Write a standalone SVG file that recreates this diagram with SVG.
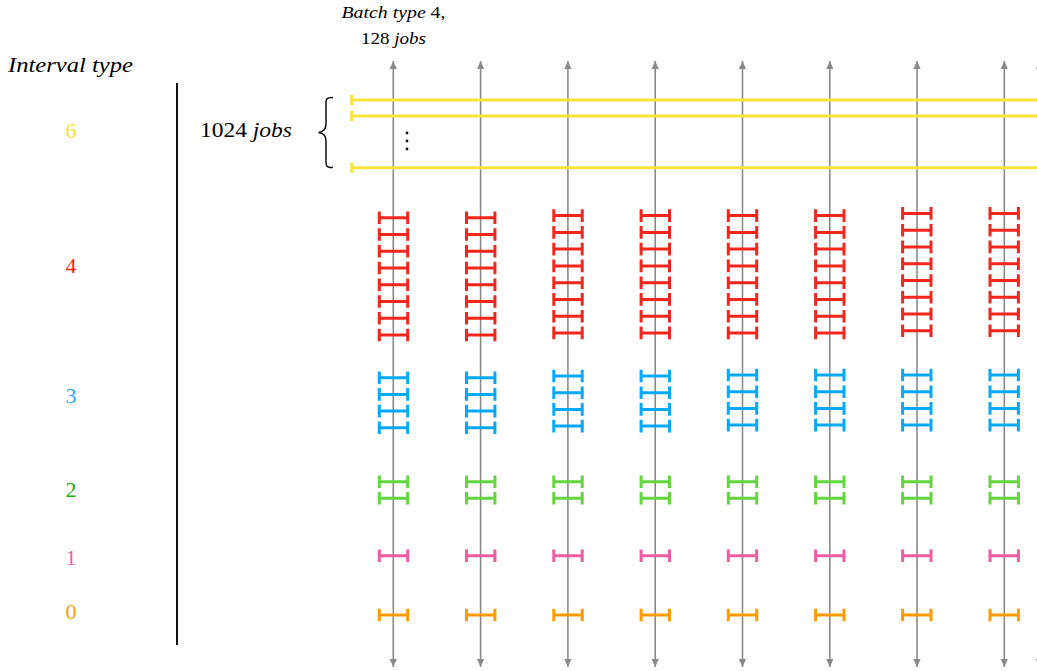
<svg xmlns="http://www.w3.org/2000/svg" xmlns:xlink="http://www.w3.org/1999/xlink" width="1037" height="671" viewBox="0 0 1037 671">
<style>
  text{font-family:"Liberation Serif","Times New Roman",serif;}
  .it{font-style:italic;}
  .ax{stroke:#8a8a8a;stroke-width:1.6;fill:none;}
  .iv{fill:none;stroke-width:3;}
  .y{stroke:#fbe23c;}
  .r{stroke:#f2261b;}
  .b{stroke:#06a8fa;}
  .g{stroke:#62d63e;}
  .p{stroke:#f05ca2;}
  .o{stroke:#ff9a00;}
</style>
<defs>
  <path id="iv" d="M-14.2,0H14.2M-14.2,-6.3V6.3M14.2,-6.3V6.3"/>
  <marker id="arr" viewBox="0 0 10 10" refX="10" refY="5" markerWidth="8" markerHeight="8" orient="auto-start-reverse" markerUnits="userSpaceOnUse">
    <path d="M0,0.5L10,5L0,9.5z" fill="#8a8a8a"/>
  </marker>
</defs>
<rect width="1037" height="671" fill="#fff"/>

<g id="labels">
  <text class="it" x="8" y="72" font-size="21" textLength="125" lengthAdjust="spacingAndGlyphs">Interval type</text>
  <text x="71" y="137.5" font-size="22" text-anchor="middle" fill="#f7e13c">6</text>
  <text x="71" y="273.3" font-size="22" text-anchor="middle" fill="#f2261b">4</text>
  <text x="71" y="402.5" font-size="22" text-anchor="middle" fill="#1faaff">3</text>
  <text x="71" y="497.3" font-size="22" text-anchor="middle" fill="#22aa11">2</text>
  <text x="71" y="565" font-size="22" text-anchor="middle" fill="#f05ca2">1</text>
  <text x="71" y="619.3" font-size="22" text-anchor="middle" fill="#ff9a00">0</text>
  <line x1="177" y1="83" x2="177" y2="645" stroke="#111" stroke-width="2"/>
  <text x="200" y="137" font-size="21" textLength="92" lengthAdjust="spacingAndGlyphs">1024 <tspan class="it">jobs</tspan></text>
  <path d="M333,97.5C325,97.5 326,100 326,106V124C326,130 323,132 318.5,132.5C323,133 326,135 326,141V159C326,165 325,167.5 333,167.5" fill="none" stroke="#111" stroke-width="1.5"/>
  <text x="393.5" y="18.3" font-size="17.5" text-anchor="middle" textLength="104" lengthAdjust="spacingAndGlyphs"><tspan class="it">Batch type</tspan> 4,</text>
  <text x="393.5" y="44.3" font-size="17.5" text-anchor="middle" textLength="65" lengthAdjust="spacingAndGlyphs">128 <tspan class="it">jobs</tspan></text>
</g>

<g id="connectors">
  <line class="ax" x1="393.3" y1="667" x2="393.3" y2="61" marker-start="url(#arr)" marker-end="url(#arr)"/>
  <line class="ax" x1="480.6" y1="667" x2="480.6" y2="61" marker-start="url(#arr)" marker-end="url(#arr)"/>
  <line class="ax" x1="567.9" y1="667" x2="567.9" y2="61" marker-start="url(#arr)" marker-end="url(#arr)"/>
  <line class="ax" x1="655.2" y1="667" x2="655.2" y2="61" marker-start="url(#arr)" marker-end="url(#arr)"/>
  <line class="ax" x1="742.5" y1="667" x2="742.5" y2="61" marker-start="url(#arr)" marker-end="url(#arr)"/>
  <line class="ax" x1="829.8" y1="667" x2="829.8" y2="61" marker-start="url(#arr)" marker-end="url(#arr)"/>
  <line class="ax" x1="917" y1="667" x2="917" y2="61" marker-start="url(#arr)" marker-end="url(#arr)"/>
  <line class="ax" x1="1004.3" y1="667" x2="1004.3" y2="61" marker-start="url(#arr)" marker-end="url(#arr)"/>
  <line class="ax" x1="1039.5" y1="667" x2="1039.5" y2="61" marker-start="url(#arr)" marker-end="url(#arr)"/>
</g>

<g id="type6">
  <path class="iv y" d="M351.7,100H1040M351.7,95V105"/>
  <path class="iv y" d="M351.7,116H1040M351.7,111V121"/>
  <path class="iv y" d="M351.7,167.7H1040M351.7,162.7V172.7"/>
  <circle cx="407" cy="133" r="1.4" fill="#111"/>
  <circle cx="407" cy="141" r="1.4" fill="#111"/>
  <circle cx="407" cy="149" r="1.4" fill="#111"/>
</g>

<g id="col1" transform="translate(393.5,0)">
  <g class="iv r"><use href="#iv" y="217.7"/><use href="#iv" y="234.5"/><use href="#iv" y="251.2"/><use href="#iv" y="268"/><use href="#iv" y="284.8"/><use href="#iv" y="301.5"/><use href="#iv" y="318.3"/><use href="#iv" y="335"/></g>
  <g class="iv b"><use href="#iv" y="377.7"/><use href="#iv" y="394.4"/><use href="#iv" y="411.1"/><use href="#iv" y="427.8"/></g>
  <g class="iv g"><use href="#iv" y="481.7"/><use href="#iv" y="498.3"/></g>
  <g class="iv p"><use href="#iv" y="555.7"/></g>
  <g class="iv o"><use href="#iv" y="615"/></g>
</g>
<g id="col2" transform="translate(480.7,0)">
  <g class="iv r"><use href="#iv" y="217.7"/><use href="#iv" y="234.5"/><use href="#iv" y="251.2"/><use href="#iv" y="268"/><use href="#iv" y="284.8"/><use href="#iv" y="301.5"/><use href="#iv" y="318.3"/><use href="#iv" y="335"/></g>
  <g class="iv b"><use href="#iv" y="377.7"/><use href="#iv" y="394.4"/><use href="#iv" y="411.1"/><use href="#iv" y="427.8"/></g>
  <g class="iv g"><use href="#iv" y="481.7"/><use href="#iv" y="498.3"/></g>
  <g class="iv p"><use href="#iv" y="555.7"/></g>
  <g class="iv o"><use href="#iv" y="615"/></g>
</g>
<g id="col3" transform="translate(568,0)">
  <g class="iv r"><use href="#iv" y="215.6"/><use href="#iv" y="232.4"/><use href="#iv" y="249.1"/><use href="#iv" y="265.9"/><use href="#iv" y="282.7"/><use href="#iv" y="299.4"/><use href="#iv" y="316.2"/><use href="#iv" y="332.9"/></g>
  <g class="iv b"><use href="#iv" y="376"/><use href="#iv" y="392.7"/><use href="#iv" y="409.4"/><use href="#iv" y="426.1"/></g>
  <g class="iv g"><use href="#iv" y="481.7"/><use href="#iv" y="498.3"/></g>
  <g class="iv p"><use href="#iv" y="555.7"/></g>
  <g class="iv o"><use href="#iv" y="615"/></g>
</g>
<g id="col4" transform="translate(655.3,0)">
  <g class="iv r"><use href="#iv" y="215.6"/><use href="#iv" y="232.4"/><use href="#iv" y="249.1"/><use href="#iv" y="265.9"/><use href="#iv" y="282.7"/><use href="#iv" y="299.4"/><use href="#iv" y="316.2"/><use href="#iv" y="332.9"/></g>
  <g class="iv b"><use href="#iv" y="376"/><use href="#iv" y="392.7"/><use href="#iv" y="409.4"/><use href="#iv" y="426.1"/></g>
  <g class="iv g"><use href="#iv" y="481.7"/><use href="#iv" y="498.3"/></g>
  <g class="iv p"><use href="#iv" y="555.7"/></g>
  <g class="iv o"><use href="#iv" y="615"/></g>
</g>
<g id="col5" transform="translate(742.5,0)">
  <g class="iv r"><use href="#iv" y="215.6"/><use href="#iv" y="232.4"/><use href="#iv" y="249.1"/><use href="#iv" y="265.9"/><use href="#iv" y="282.7"/><use href="#iv" y="299.4"/><use href="#iv" y="316.2"/><use href="#iv" y="332.9"/></g>
  <g class="iv b"><use href="#iv" y="375"/><use href="#iv" y="391.7"/><use href="#iv" y="408.4"/><use href="#iv" y="425.1"/></g>
  <g class="iv g"><use href="#iv" y="481.7"/><use href="#iv" y="498.3"/></g>
  <g class="iv p"><use href="#iv" y="555.7"/></g>
  <g class="iv o"><use href="#iv" y="615"/></g>
</g>
<g id="col6" transform="translate(829.8,0)">
  <g class="iv r"><use href="#iv" y="215.6"/><use href="#iv" y="232.4"/><use href="#iv" y="249.1"/><use href="#iv" y="265.9"/><use href="#iv" y="282.7"/><use href="#iv" y="299.4"/><use href="#iv" y="316.2"/><use href="#iv" y="332.9"/></g>
  <g class="iv b"><use href="#iv" y="375"/><use href="#iv" y="391.7"/><use href="#iv" y="408.4"/><use href="#iv" y="425.1"/></g>
  <g class="iv g"><use href="#iv" y="481.7"/><use href="#iv" y="498.3"/></g>
  <g class="iv p"><use href="#iv" y="555.7"/></g>
  <g class="iv o"><use href="#iv" y="615"/></g>
</g>
<g id="col7" transform="translate(916.8,0)">
  <g class="iv r"><use href="#iv" y="213.4"/><use href="#iv" y="230.2"/><use href="#iv" y="246.9"/><use href="#iv" y="263.7"/><use href="#iv" y="280.5"/><use href="#iv" y="297.2"/><use href="#iv" y="314"/><use href="#iv" y="330.7"/></g>
  <g class="iv b"><use href="#iv" y="375"/><use href="#iv" y="391.7"/><use href="#iv" y="408.4"/><use href="#iv" y="425.1"/></g>
  <g class="iv g"><use href="#iv" y="481.7"/><use href="#iv" y="498.3"/></g>
  <g class="iv p"><use href="#iv" y="555.7"/></g>
  <g class="iv o"><use href="#iv" y="615"/></g>
</g>
<g id="col8" transform="translate(1004.2,0)">
  <g class="iv r"><use href="#iv" y="213.4"/><use href="#iv" y="230.2"/><use href="#iv" y="246.9"/><use href="#iv" y="263.7"/><use href="#iv" y="280.5"/><use href="#iv" y="297.2"/><use href="#iv" y="314"/><use href="#iv" y="330.7"/></g>
  <g class="iv b"><use href="#iv" y="375"/><use href="#iv" y="391.7"/><use href="#iv" y="408.4"/><use href="#iv" y="425.1"/></g>
  <g class="iv g"><use href="#iv" y="481.7"/><use href="#iv" y="498.3"/></g>
  <g class="iv p"><use href="#iv" y="555.7"/></g>
  <g class="iv o"><use href="#iv" y="615"/></g>
</g>
</svg>
